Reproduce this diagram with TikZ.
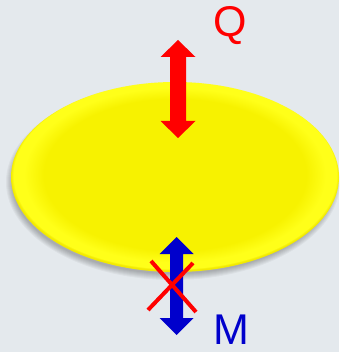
\documentclass[tikz,border=0pt]{standalone}
\usepackage{fontspec}
\setmainfont{Liberation Sans}
\definecolor{bg}{RGB}{228,233,237}
\definecolor{yin}{RGB}{247,242,0}
\definecolor{yout}{RGB}{255,255,25}
\definecolor{yedge}{RGB}{242,234,0}
\definecolor{qred}{RGB}{255,0,0}
\definecolor{mblue}{RGB}{0,0,204}
\pgfdeclareradialshading{ellshade}{\pgfpoint{0bp}{1bp}}{color(0bp)=(yin); color(20bp)=(yin); color(23bp)=(yout); color(24.6bp)=(yout); color(25bp)=(yedge); color(50bp)=(yedge)}
\tikzset{
  lbl/.style={font=\fontsize{43}{43}\selectfont, inner sep=0pt},
  cross/.style={draw=qred, line width=4pt}
}
\begin{document}
\begin{tikzpicture}[x=1pt,y=-1pt]
\fill[bg] (0,0) rectangle (339,352);
\useasboundingbox (0,0) rectangle (339,352);
% shadow
\foreach \i in {0,...,6}
  \fill[black,opacity=0.04] (173,182) ellipse ({161+\i} and {92+\i});
% disc
\shade[shading=ellshade] (175,177) ellipse (164 and 95);
% red double arrow
\fill[qred] (178,40) -- (195.5,57) -- (186,57) -- (186,121) -- (195.5,121) -- (178,138)
  -- (160.5,121) -- (170,121) -- (170,57) -- (160.5,57) -- cycle;
% blue double arrow
\fill[mblue] (176.5,237) -- (193.5,254) -- (183,254) -- (183,318) -- (193.5,318) -- (176.5,335)
  -- (159.5,318) -- (170,318) -- (170,254) -- (159.5,254) -- cycle;
% red cross
\draw[cross] (148,310) -- (193,263);
\draw[cross] (151,261) -- (196,312);
% labels
\node[lbl, text=qred] (q) at (230,26) {Q};
\node[lbl, text=mblue] (m) at (231,330) {M};
\end{tikzpicture}
\end{document}
